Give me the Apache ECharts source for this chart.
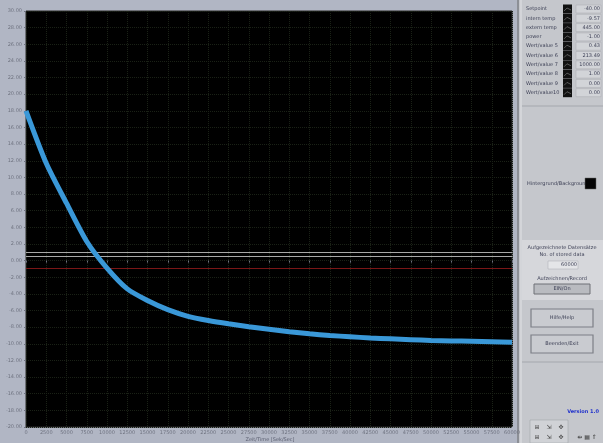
<!DOCTYPE html>
<html><head><meta charset="utf-8">
<script src="https://cdn.jsdelivr.net/npm/echarts@6/dist/echarts.min.js"></script>
<style>html,body{margin:0;padding:0;background:#c4c6cb;}#c{width:603px;height:443px;}</style>
</head><body><div id="c"></div>
<script>
const timeValues = [0,2500,5000,7500,10000,12500,15000,17500,20000,22500,25000,27500,30000,32500,35000,37500,40000,42500,45000,47500,50000,52500,55000,57500,60000];
const tempValues = [18.0,11.7,6.9,2.3,-0.9,-3.4,-4.8,-5.9,-6.7,-7.2,-7.6,-7.95,-8.25,-8.55,-8.8,-9.0,-9.15,-9.3,-9.4,-9.5,-9.6,-9.65,-9.7,-9.75,-9.8];
const refLineValues = [1.0, 0.5];
const alarmLineValue = -0.9;
const channelNames = ["Setpoint","intern temp","extern temp","power","Wert/value 5","Wert/value 6","Wert/value 7","Wert/value 8","Wert/value 9","Wert/value10"];
const channelValues = ["-40.00","-9.57","445.00","-1.00","0.43","213.49","1000.00","1.00","0.00","0.00"];

const chart = echarts.init(document.getElementById('c'), null, {renderer:'canvas'});
const graphics = [];
graphics.push({type:'rect', shape:{x:0,y:0,width:518,height:443}, style:{fill:'#b1b6c4'}, z:-10});
graphics.push({type:'rect', shape:{x:518,y:0,width:85,height:443}, style:{fill:'#c5c7cc'}, z:-10});
graphics.push({type:'line', shape:{x1:518,y1:0,x2:518,y2:443}, style:{stroke:'#8c8f96',lineWidth:2}, z:-9});
graphics.push({type:'line', shape:{x1:521,y1:0,x2:521,y2:443}, style:{stroke:'#e2e3e6',lineWidth:1}, z:-9});
channelNames.forEach((n,i)=>{
  const y = 9 + i*9.3;
  graphics.push({type:'text', style:{text:n, x:526, y:y, fill:'#3c3f55', font:'5px "DejaVu Sans"', textVerticalAlign:'middle'}});
  graphics.push({type:'rect', shape:{x:563,y:y-4.5,width:9,height:9}, style:{fill:'#111'}});
  graphics.push({type:'polyline', shape:{points:[[564,y+2],[567,y-1],[571,y+1]]}, style:{stroke:'#777',lineWidth:0.7,fill:null}});
  graphics.push({type:'rect', shape:{x:576,y:y-4,width:25,height:8}, style:{fill:'#d2d4d8',stroke:'#a9abb0',lineWidth:0.5}});
  graphics.push({type:'text', style:{text:channelValues[i], x:600, y:y, fill:'#3c3f55', font:'5px "DejaVu Sans"', textAlign:'right', textVerticalAlign:'middle'}});
});
graphics.push({type:'line', shape:{x1:522,y1:106,x2:603,y2:106}, style:{stroke:'#a4a7ad',lineWidth:1}});
graphics.push({type:'text', style:{text:'Hintergrund/Background', x:527, y:184, fill:'#3c3f55', font:'5px "DejaVu Sans"', textVerticalAlign:'middle'}});
graphics.push({type:'rect', shape:{x:585,y:178,width:11,height:11}, style:{fill:'#050505',stroke:'#666',lineWidth:0.5}});
graphics.push({type:'rect', shape:{x:522,y:240,width:81,height:60}, style:{fill:'#d6d7db'}, z:-8});
graphics.push({type:'text', style:{text:'Aufgezeichnete Datensätze', x:562, y:248, fill:'#3c3f55', font:'5px "DejaVu Sans"', textAlign:'center', textVerticalAlign:'middle'}});
graphics.push({type:'text', style:{text:'No. of stored data', x:562, y:255, fill:'#3c3f55', font:'5px "DejaVu Sans"', textAlign:'center', textVerticalAlign:'middle'}});
graphics.push({type:'rect', shape:{x:548,y:261,width:30,height:8}, style:{fill:'#e4e5e8',stroke:'#a9abb0',lineWidth:0.5}});
graphics.push({type:'text', style:{text:'60000', x:577, y:265, fill:'#3c3f55', font:'5px "DejaVu Sans"', textAlign:'right', textVerticalAlign:'middle'}});
graphics.push({type:'text', style:{text:'Aufzeichnen/Record', x:562, y:279, fill:'#3c3f55', font:'5px "DejaVu Sans"', textAlign:'center', textVerticalAlign:'middle'}});
graphics.push({type:'rect', shape:{x:534,y:284,width:56,height:10}, style:{fill:'#b9bbc0',stroke:'#6e7076',lineWidth:1}});
graphics.push({type:'text', style:{text:'EIN/On', x:562, y:289, fill:'#3c3f55', font:'5px "DejaVu Sans"', textAlign:'center', textVerticalAlign:'middle'}});
[['Hilfe/Help',318],['Beenden/Exit',344]].forEach(([t,y])=>{
  graphics.push({type:'rect', shape:{x:531,y:y-9,width:62,height:18}, style:{fill:'#c9cbd0',stroke:'#7c7f86',lineWidth:1.2}});
  graphics.push({type:'text', style:{text:t, x:562, y:y, fill:'#3c3f55', font:'5px "DejaVu Sans"', textAlign:'center', textVerticalAlign:'middle'}});
});
graphics.push({type:'line', shape:{x1:522,y1:362,x2:603,y2:362}, style:{stroke:'#a4a7ad',lineWidth:1}});
graphics.push({type:'text', style:{text:'Version 1.0', x:583, y:412, fill:'#2233cc', font:'bold 5px "DejaVu Sans"', textAlign:'center', textVerticalAlign:'middle'}});
graphics.push({type:'rect', shape:{x:530,y:420,width:38,height:23}, style:{fill:'#d0d2d6',stroke:'#9a9ca2',lineWidth:0.5}});
['⊞','⇲','✥'].forEach((s,i)=>{
  graphics.push({type:'text', style:{text:s, x:537+i*12, y:427, fill:'#444', font:'6px "DejaVu Sans"', textAlign:'center', textVerticalAlign:'middle'}});
  graphics.push({type:'text', style:{text:s, x:537+i*12, y:437, fill:'#444', font:'6px "DejaVu Sans"', textAlign:'center', textVerticalAlign:'middle'}});
});
graphics.push({type:'text', style:{text:'⇹ ▦ ⇑', x:587, y:437, fill:'#444', font:'6px "DejaVu Sans"', textAlign:'center', textVerticalAlign:'middle'}});
graphics.push({type:'text', style:{text:'Zeit/Time [Sek/Sec]', x:270, y:439.5, fill:'#5a5e70', font:'5px "DejaVu Sans"', textAlign:'center', textVerticalAlign:'middle'}});

const markData = refLineValues.map(v=>({yAxis:v, lineStyle:{color:'#a8a8a8',width:1,type:'solid'}}));
markData.push({yAxis:alarmLineValue, lineStyle:{color:'#7a1616',width:1,type:'solid'}});

chart.setOption({
  animation:false,
  backgroundColor:'transparent',
  graphic:graphics,
  grid:{left:26, top:11, right:91, bottom:16, backgroundColor:'#000', show:true, borderColor:'#2a2a2a', borderWidth:1},
  xAxis:{type:'value', min:0, max:60000, interval:2500,
    axisLine:{show:false}, axisTick:{show:true, length:2, lineStyle:{color:'#6f7380'}},
    axisLabel:{fontSize:5, color:'#6f7380', margin:3, fontFamily:'DejaVu Sans', formatter:v=>String(v)},
    splitLine:{show:true, lineStyle:{color:'#1a2116', width:1, type:[1,1]}}},
  yAxis:{type:'value', min:-20, max:30, interval:2,
    axisLine:{show:false}, axisTick:{show:true, length:2, lineStyle:{color:'#6f7380'}},
    axisLabel:{fontSize:5, color:'#6f7380', margin:4, fontFamily:'DejaVu Sans', formatter:v=>v.toFixed(2)},
    splitLine:{show:true, lineStyle:{color:'#1a2116', width:1, type:[1,1]}}},
  series:[{type:'line', data:timeValues.map((t,i)=>[t,tempValues[i]]), showSymbol:false, smooth:0.25,
    lineStyle:{color:'#3a98d8', width:5}, z:5,
    markLine:{silent:true, symbol:'none', label:{show:false}, data:markData, z:3}}]
});
</script></body></html>
